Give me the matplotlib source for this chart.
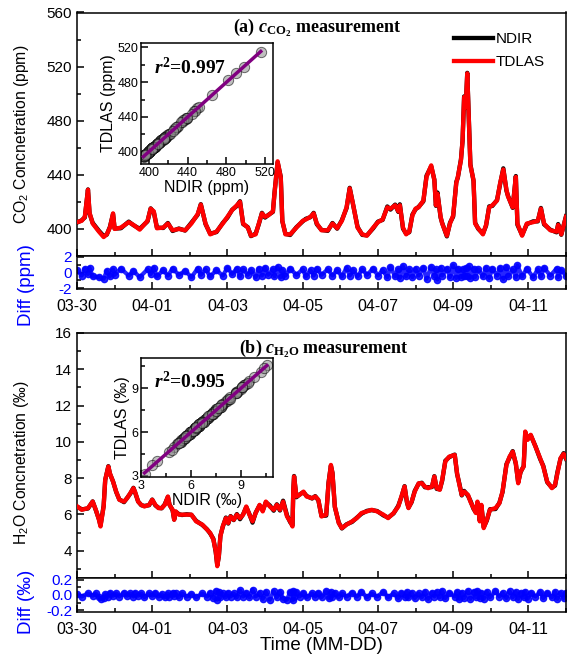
import numpy as np
import matplotlib
matplotlib.use("Agg")
import matplotlib.pyplot as plt
from matplotlib.ticker import MultipleLocator, FixedLocator, FormatStrFormatter

plt.rcParams['font.family'] = ['Liberation Sans', 'DejaVu Sans']
plt.rcParams['mathtext.fontset'] = 'custom'
plt.rcParams['mathtext.rm'] = 'Liberation Serif:bold'
plt.rcParams['mathtext.it'] = 'Liberation Serif:italic:bold'
plt.rcParams['mathtext.bf'] = 'Liberation Serif:bold'
plt.rcParams['mathtext.sf'] = 'Liberation Sans'
plt.rcParams['axes.unicode_minus'] = False

# ---------------- data ----------------
# time axis: hours since 03-30 00:00
date_ticks = [0, 48, 96, 144, 192, 240, 288]
date_labels = ['03-30', '04-01', '04-03', '04-05', '04-07', '04-09', '04-11']

# CO2 (ppm), TDLAS record
t_co2 = [0, 3, 5, 7, 8, 10, 14, 17, 19, 21, 23, 24, 28, 33, 36, 40,
         45, 47, 49, 51, 55, 58, 61, 65, 69, 73, 77, 79, 82, 85, 89, 93,
         96, 99, 102, 104, 106, 109, 111, 114, 116, 118, 120, 122, 125, 126, 128, 130,
         131, 133, 136, 140, 144, 146, 149, 151, 153, 156, 160, 163, 166, 169, 172, 174,
         176, 179, 182, 185, 189, 192, 195, 198, 200, 203, 205, 206, 208, 210, 212, 214,
         216, 218, 221, 223, 226, 228, 229, 230, 232, 233, 236, 238, 240, 242, 243, 245,
         246, 247, 248, 249, 250, 251, 253, 254, 256, 259, 261, 263, 265, 268, 270, 272,
         274, 275, 278, 280, 281, 284, 287, 291, 294, 296, 298, 302, 306, 307, 309, 312]
co2_tdlas = [405, 406, 409, 429, 412, 404, 398, 394, 396, 401, 411.5, 400, 401, 405, 403, 399.5,
             406, 415, 413, 400.5, 401, 404, 399, 400, 399, 404, 411, 418, 404, 396, 398, 404,
             409, 414, 417.5, 420, 404, 401, 395, 396, 404, 411.5, 409, 410, 413, 426, 450, 438,
             406, 396, 396, 401, 406, 407, 409, 411.5, 404, 399, 399, 404, 400.5, 406, 416, 430,
             419, 401, 396, 395, 401, 405, 407, 416, 415, 417.5, 413, 417.5, 401, 396, 398, 410,
             415, 416, 421, 438.5, 447, 436, 417.5, 426, 409, 404, 395, 404, 410, 434, 438.5, 451,
             465.5, 497.5, 490, 515, 482, 447, 436, 404, 400.5, 396, 403, 416, 417.5, 421, 434, 444,
             429, 424, 416, 438.5, 404, 395, 404, 405, 406, 415, 404, 399, 398, 403, 396, 409]
# TDLAS - NDIR (ppm)
co2_diff = [0.3, -0.4, 0.5, -0.2, 0.6, -0.5, -0.6, -0.8, 0.2, -0.5, 0.4, -0.3, 0.5, -0.4, 0.2, -0.6,
            0.4, -0.2, 0.6, -0.5, 0.3, -0.4, 0.5, -0.3, 0.2, -0.6, 0.5, -0.3, 0.4, -0.5, 0.3, -0.4,
            0.6, -0.2, 0.5, -0.5, 0.4, -0.3, 0.3, -0.6, 0.5, -0.4, 0.6, -0.3, 0.4, -0.5, 0.7, -0.6,
            0.3, -0.4, 0.5, -0.3, 0.4, -0.5, 0.3, -0.4, 0.5, -0.3, 0.4, -0.4, 0.3, -0.5, 0.6, -0.4,
            0.3, -0.5, 0.4, -0.3, 0.5, -0.4, 0.3, -0.6, 0.7, -0.5, 0.4, -0.7, 0.8, -0.5, 0.4, -0.6,
            0.5, -0.4, 0.6, -0.8, 0.7, -0.5, 0.4, -0.9, 0.6, -0.4, 0.5, -0.6, 0.9, -0.7, 0.5, -0.6,
            0.4, -0.5, 0.6, -0.4, 0.8, -0.7, 0.5, -0.6, 0.4, -0.5, 0.6, -0.7, 0.5, -0.4, 0.6, -0.8,
            0.7, -0.5, 0.4, -0.6, 0.9, -0.5, 0.5, -0.6, 0.4, -0.5, 0.6, -0.4, 0.5, -0.6, 0.3, -0.4]

# H2O (permil), TDLAS record
t_h2o = [0, 3, 7, 10, 12, 14, 15, 17, 18, 20, 21, 23, 25, 27, 30, 32, 34, 36, 37,
         39, 41, 43, 46, 48, 50, 52, 54, 56, 58, 59, 61, 62, 63, 65, 67, 70, 73, 76,
         80, 83, 85, 87, 88.5, 89.5, 90.5, 91.5, 93, 95, 96.5, 98, 100, 102, 104, 106,
         108, 110, 112, 114, 116.5, 118.5, 120.5, 123, 125.5, 127.5, 129.5, 131.5, 134, 136, 137.5,
         138, 138.5, 140, 142, 144.5, 146.5, 150, 152, 154, 156, 159, 160.5, 162, 163, 164.5,
         167, 169, 172, 175.5, 178.5, 181.5, 185, 188, 191.5, 195.5, 198.5, 202, 205, 207, 209,
         210.5, 211.5, 213.5, 215.5, 218, 220, 222, 224, 226.5, 228, 229.5, 231.5, 233, 235, 237.5,
         241, 242.5, 244, 245.5, 247, 249.5, 251, 253, 254.5, 255.5, 257, 258, 259.5, 261.5, 263.5,
         267, 269.5, 271.5, 274, 276, 278, 280, 281.5, 283, 285, 286, 287.5, 289.5, 292.5, 295.5,
         297.5, 300, 303, 305, 306.5, 308.5, 310.5, 312]
h2o_tdlas = [6.45, 6.26, 6.35, 6.71, 6.26, 5.71, 5.34, 6.44, 7.91, 8.64, 8.27, 7.81, 7.26, 6.81, 6.71, 6.9, 7.17, 7.45, 7.26,
             6.71, 6.53, 6.44, 6.53, 6.81, 6.53, 6.35, 6.35, 6.53, 6.99, 6.53, 6.26, 5.71, 6.17, 5.99, 5.99, 5.99, 5.99, 5.62,
             5.44, 5.16, 4.98, 4.62, 3.99, 3.15, 3.72, 4.8, 5.34, 5.8, 5.53, 5.89, 5.71, 5.99, 5.8, 5.99,
             6.44, 5.99, 5.62, 6.08, 6.53, 6.17, 6.71, 6.44, 6.26, 6.53, 6.26, 6.71, 5.89, 5.62, 5.34,
             7.36, 8.09, 6.99, 7.08, 7.26, 6.99, 6.9, 6.99, 6.81, 5.89, 5.99, 7.72, 8.73, 8.27, 6.44,
             5.53, 5.25, 5.44, 5.62, 5.8, 6.08, 6.17, 6.26, 6.17, 5.99, 5.8, 6.08, 6.44, 6.99, 7.54,
             6.71, 6.35, 6.71, 7.26, 7.72, 7.72, 7.54, 7.45, 7.54, 8.09, 7.45, 7.36, 7.91, 8.92, 9.19,
             9.28, 8.27, 7.63, 7.08, 7.26, 7.08, 6.71, 6.35, 6.08, 6.71, 5.62, 6.53, 5.25, 5.71, 6.26,
             6.35, 6.62, 7.26, 8.73, 9.19, 9.46, 8.82, 7.72, 8.36, 8.64, 10.57, 10.11, 10.39, 9.74, 9.1,
             8.64, 7.81, 7.45, 7.63, 8.27, 9.1, 9.34, 9.1]
# TDLAS - NDIR (permil)
h2o_diff = [0.01, -0.02, 0.02, -0.01, 0.02, -0.03, -0.05, -0.04, 0.01, -0.02, 0.03, -0.01, 0.02, -0.02, 0.03, -0.01, 0.02, -0.02, 0.03,
            -0.01, 0.02, -0.03, 0.02, -0.01, 0.03, -0.02, 0.01, -0.03, 0.02, -0.02, 0.03, -0.01, 0.02, -0.03, 0.02, -0.02, 0.01, -0.03,
            0.02, -0.02, 0.03, -0.04, 0.05, -0.06, 0.04, -0.03, 0.02, -0.03, 0.03, -0.02, 0.02, -0.03, 0.06, -0.02,
            0.03, -0.03, 0.07, -0.02, 0.03, -0.05, 0.04, -0.06, 0.05, -0.03, 0.04, -0.05, -0.06, 0.04, -0.07,
            0.05, -0.03, 0.04, -0.02, 0.03, -0.03, 0.02, -0.02, 0.03, -0.03, 0.05, -0.04, 0.04, -0.02, 0.03,
            -0.03, 0.02, -0.02, 0.03, -0.02, 0.04, -0.03, 0.02, -0.02, 0.04, -0.03, 0.02, -0.04, 0.03, -0.02,
            0.04, -0.03, 0.03, -0.04, 0.02, -0.03, 0.04, -0.05, 0.03, -0.02, 0.04, -0.03, 0.05, -0.04, 0.03,
            -0.02, 0.04, -0.05, 0.03, -0.04, 0.05, -0.05, 0.04, -0.03, 0.05, -0.04, 0.03, -0.05, 0.04, -0.03,
            0.05, -0.02, 0.03, -0.04, 0.05, -0.03, 0.04, -0.05, 0.03, -0.03, 0.04, -0.05, 0.03, -0.02, 0.04,
            -0.04, 0.03, -0.03, 0.04, -0.05, 0.03, -0.04, 0.03]

co2_r2_text = '0.997'
h2o_r2_text = '0.995'

# ---------------- derived series ----------------
t_co2 = np.array(t_co2, float)
co2_tdlas = np.array(co2_tdlas, float)
co2_ndir = co2_tdlas - np.array(co2_diff)
t_h2o = np.array(t_h2o, float)
h2o_tdlas = np.array(h2o_tdlas, float)
h2o_ndir = h2o_tdlas - np.array(h2o_diff)

# ---------------- figure ----------------
fig = plt.figure(figsize=(5.67, 6.56), dpi=100)
W, H = 567.0, 656.0


def box(x0, y0, x1, y1):
    return [x0 / W, 1 - y1 / H, (x1 - x0) / W, (y1 - y0) / H]


ax_a = fig.add_axes(box(77, 12.5, 566, 256))
ax_da = fig.add_axes(box(77, 256, 566, 289), sharex=ax_a)
ax_b = fig.add_axes(box(77, 333, 566, 578))
ax_db = fig.add_axes(box(77, 578, 566, 612), sharex=ax_b)
in_a = fig.add_axes(box(141, 43, 273, 164))
in_b = fig.add_axes(box(141, 358, 273, 477))

LW_SP = 1.1
for ax in (ax_a, ax_da, ax_b, ax_db, in_a, in_b):
    for s in ax.spines.values():
        s.set_linewidth(LW_SP)
    ax.tick_params(which='both', direction='in', top=False, right=False, width=LW_SP)
    ax.tick_params(which='major', length=5, labelsize=11)
    ax.tick_params(which='minor', length=3)

RED = '#ff0000'
BLUE = '#0000ff'
PURPLE = '#800080'
LW_CURVE = 3.1

# ---- (a) CO2 ----
ax_a.plot(t_co2, co2_ndir, color='black', lw=LW_CURVE, label='NDIR', zorder=2)
ax_a.plot(t_co2, co2_tdlas, color=RED, lw=LW_CURVE, label='TDLAS', zorder=3)
ax_a.set_ylim(380, 560)
ax_a.yaxis.set_major_locator(FixedLocator([400, 440, 480, 520, 560]))
ax_a.yaxis.set_minor_locator(MultipleLocator(20))
ax_a.set_ylabel('$\\mathsf{CO_2}$ Concnetration (ppm)', fontsize=11.3)
ax_a.yaxis.set_label_coords(-0.094, 0.5)
ax_a.tick_params(labelbottom=False)
ax_a.text(0.319, 0.936, '(a) $c_{\\mathrm{CO_2}}$ measurement', transform=ax_a.transAxes,
          family='Liberation Serif', fontweight='bold', fontsize=13, va='center', ha='left')
ax_a.legend(loc='upper left', bbox_to_anchor=(0.771, 0.918), frameon=False, fontsize=11,
            handlelength=2.55, handletextpad=0.2, labelspacing=0.55, borderpad=0, borderaxespad=0)

ax_da.plot(t_co2, co2_diff, '-o', color=BLUE, lw=3.0, ms=4.5, mec=BLUE, mfc=BLUE, alpha=0.85)
ax_da.set_ylim(-2.1, 2.1)
ax_da.yaxis.set_major_locator(FixedLocator([-2, 0, 2]))
ax_da.yaxis.set_minor_locator(MultipleLocator(1))
ax_da.tick_params(axis='y', labelcolor=BLUE)
ax_da.set_ylabel('Diff (ppm)', color=BLUE, fontsize=13.5)
ax_da.yaxis.set_label_coords(-0.086, 0.12)

# ---- (b) H2O ----
ax_b.plot(t_h2o, h2o_ndir, color='black', lw=LW_CURVE, zorder=2)
ax_b.plot(t_h2o, h2o_tdlas, color=RED, lw=LW_CURVE, zorder=3)
ax_b.set_ylim(2.5, 16)
ax_b.yaxis.set_major_locator(FixedLocator([4, 6, 8, 10, 12, 14, 16]))
ax_b.yaxis.set_minor_locator(MultipleLocator(1))
ax_b.set_ylabel('H$_\\mathsf{2}$O Concnetration (\u2030)', fontsize=11.3)
ax_b.yaxis.set_label_coords(-0.094, 0.47)
ax_b.tick_params(labelbottom=False)
ax_b.text(0.331, 0.935, '(b) $c_{\\mathrm{H_2O}}$ measurement', transform=ax_b.transAxes,
          family='Liberation Serif', fontweight='bold', fontsize=13, va='center', ha='left')

ax_db.plot(t_h2o, h2o_diff, '-o', color=BLUE, lw=3.0, ms=4.5, mec=BLUE, mfc=BLUE, alpha=0.85)
ax_db.set_ylim(-0.22, 0.22)
ax_db.yaxis.set_major_locator(FixedLocator([-0.2, 0.0, 0.2]))
ax_db.yaxis.set_minor_locator(MultipleLocator(0.1))
ax_db.yaxis.set_major_formatter(FormatStrFormatter('%.1f'))
ax_db.tick_params(axis='y', labelcolor=BLUE)
ax_db.set_ylabel('Diff (\u2030)', color=BLUE, fontsize=13.5)
ax_db.yaxis.set_label_coords(-0.086, 0.29)
ax_db.set_xlabel('Time (MM-DD)', fontsize=13.5, labelpad=0)

for ax in (ax_da, ax_db):
    ax.set_xlim(0, 312)
    ax.xaxis.set_major_locator(FixedLocator(date_ticks))
    ax.set_xticklabels(date_labels)
    ax.xaxis.set_minor_locator(MultipleLocator(24))
    ax.tick_params(axis='x', labelsize=11.5, pad=7)

# ---- scatter insets ----
def inset(ax, x, y, r2_text, unit, xlim, ylim, major, minor):
    ax.scatter(x, y, s=55, facecolor='0.55', edgecolor='black', linewidths=0.7, alpha=0.55, zorder=2)
    k, b = np.polyfit(x, y, 1)
    xx = np.array([x.min(), x.max()])
    ax.plot(xx, k * xx + b, color=PURPLE, lw=2.5, zorder=3)
    ax.set_xlim(*xlim)
    ax.set_ylim(*ylim)
    ax.xaxis.set_major_locator(MultipleLocator(major))
    ax.yaxis.set_major_locator(MultipleLocator(major))
    ax.xaxis.set_minor_locator(MultipleLocator(minor))
    ax.yaxis.set_minor_locator(MultipleLocator(minor))
    ax.tick_params(which='major', labelsize=9, pad=2)
    ax.set_xlabel('NDIR (%s)' % unit, fontsize=11.5, labelpad=1)
    ax.set_ylabel('TDLAS (%s)' % unit, fontsize=11.5, labelpad=1)
    ax.text(0.1, 0.8, '$r^2$=' + r2_text, transform=ax.transAxes, family='Liberation Serif',
            fontweight='bold', fontsize=14, va='center', ha='left')


inset(in_a, co2_ndir, co2_tdlas, co2_r2_text, 'ppm', (392, 528), (386, 525), 40, 20)
inset(in_b, h2o_ndir, h2o_tdlas, h2o_r2_text, '\u2030', (3, 10.9), (2.93, 11.05), 3, 1.5)

fig.savefig('out.png', dpi=100)
